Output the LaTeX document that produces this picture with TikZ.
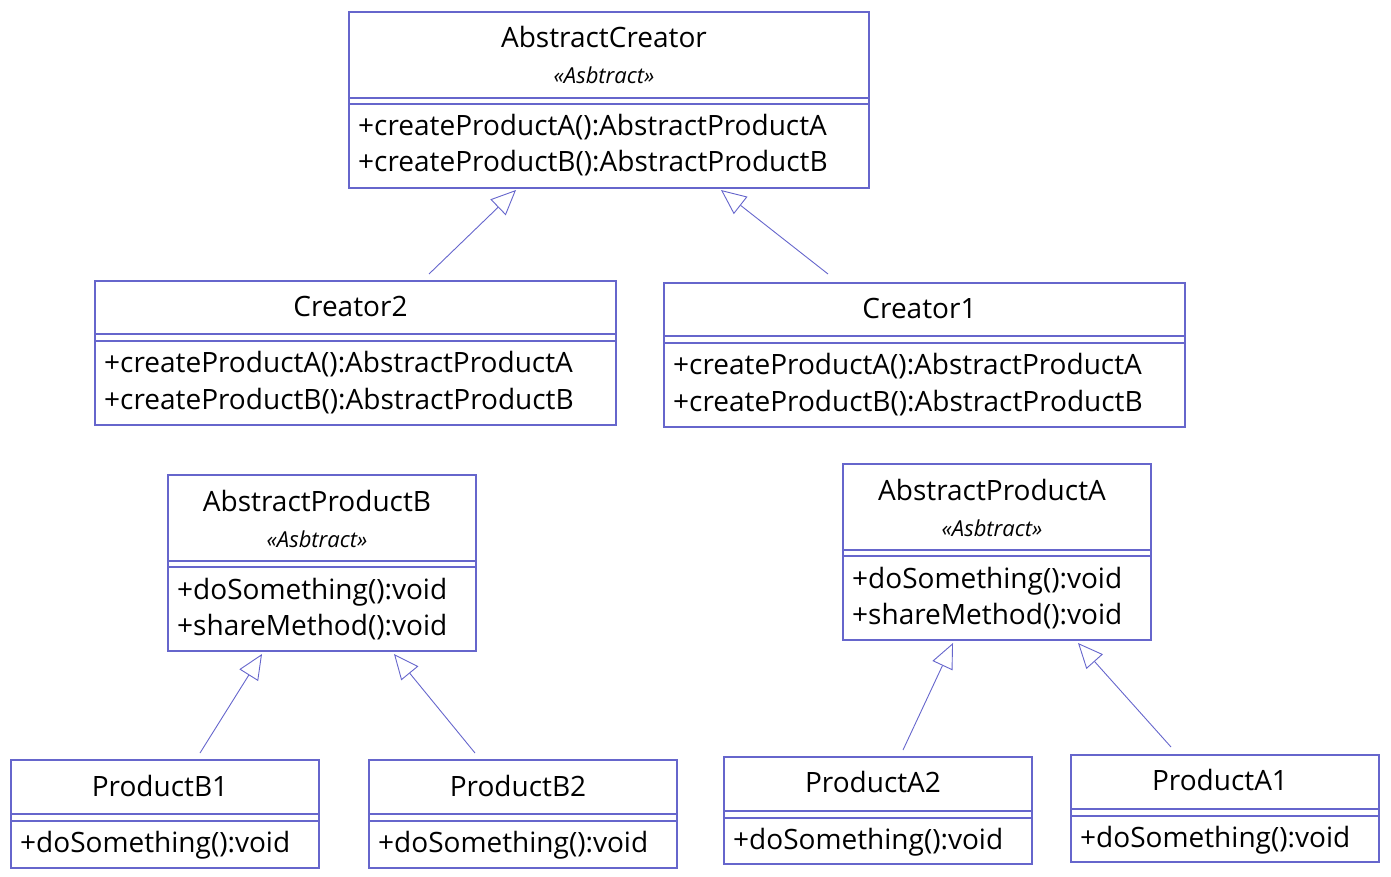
\documentclass[tikz,border=0pt]{standalone}
\usepackage{fontspec}
\setmainfont{Open Sans}
\usetikzlibrary{arrows.meta,calc}

\definecolor{umlblue}{RGB}{102,102,204}

\tikzset{
	cls/.style={draw=umlblue, line width=1.3pt, inner sep=0pt, outer sep=0pt},
	clsname/.style={anchor=base, inner sep=0pt, xshift=-5pt, font=\fontsize{28}{34}\selectfont},
	stereo/.style={anchor=base, inner sep=0pt, xshift=-5pt, font=\fontsize{22}{26}\selectfont\itshape},
	member/.style={anchor=base west, inner sep=0pt, font=\fontsize{28}{34}\selectfont},
	sep/.style={draw=umlblue, line width=1.3pt},
	inherit/.style={draw=umlblue, line width=0.9pt,
		-{Triangle[open, length=25pt, width=22pt, fill=white]}}
}

\begin{document}
\begin{tikzpicture}[x=1pt,y=-1pt]
	\useasboundingbox (0,0) rectangle (1391,877);

	% abstract creator
	\node[cls, minimum width=520pt, minimum height=176pt] (acreator) at (609,100) {};
	\node[clsname] (acreator-t) at ($(acreator.north)+(0,36)$) {AbstractCreator};
	\node[stereo] (acreator-s) at ($(acreator.north)+(0,72)$) {«Asbtract»};
	\foreach \d in {86,92}
		\draw[sep] ($(acreator.north west)+(0,\d)$) -- ($(acreator.north east)+(0,\d)$);
	\node[member] (acreator-m1) at ($(acreator.north west)+(9,124)$) {+createProductA():AbstractProductA};
	\node[member] (acreator-m2) at ($(acreator.north west)+(9,160)$) {+createProductB():AbstractProductB};

	% concrete creators
	\node[cls, minimum width=521pt, minimum height=144pt] (creator2) at (355.5,353) {};
	\node[clsname] (creator2-t) at ($(creator2.north)+(0,35)$) {Creator2};
	\foreach \d in {53,60}
		\draw[sep] ($(creator2.north west)+(0,\d)$) -- ($(creator2.north east)+(0,\d)$);
	\node[member] (creator2-m1) at ($(creator2.north west)+(9,91)$) {+createProductA():AbstractProductA};
	\node[member] (creator2-m2) at ($(creator2.north west)+(9,128)$) {+createProductB():AbstractProductB};

	\node[cls, minimum width=521pt, minimum height=144pt] (creator1) at (924.5,355) {};
	\node[clsname] (creator1-t) at ($(creator1.north)+(0,35)$) {Creator1};
	\foreach \d in {53,60}
		\draw[sep] ($(creator1.north west)+(0,\d)$) -- ($(creator1.north east)+(0,\d)$);
	\node[member] (creator1-m1) at ($(creator1.north west)+(9,91)$) {+createProductA():AbstractProductA};
	\node[member] (creator1-m2) at ($(creator1.north west)+(9,128)$) {+createProductB():AbstractProductB};

	% abstract products
	\node[cls, minimum width=308pt, minimum height=176pt] (aprodB) at (322,563) {};
	\node[clsname] (aprodB-t) at ($(aprodB.north)+(0,36)$) {AbstractProductB};
	\node[stereo] (aprodB-s) at ($(aprodB.north)+(0,72)$) {«Asbtract»};
	\foreach \d in {86,92}
		\draw[sep] ($(aprodB.north west)+(0,\d)$) -- ($(aprodB.north east)+(0,\d)$);
	\node[member] (aprodB-m1) at ($(aprodB.north west)+(9,124)$) {+doSomething():void};
	\node[member] (aprodB-m2) at ($(aprodB.north west)+(9,160)$) {+shareMethod():void};

	\node[cls, minimum width=308pt, minimum height=176pt] (aprodA) at (997,552) {};
	\node[clsname] (aprodA-t) at ($(aprodA.north)+(0,36)$) {AbstractProductA};
	\node[stereo] (aprodA-s) at ($(aprodA.north)+(0,72)$) {«Asbtract»};
	\foreach \d in {86,92}
		\draw[sep] ($(aprodA.north west)+(0,\d)$) -- ($(aprodA.north east)+(0,\d)$);
	\node[member] (aprodA-m1) at ($(aprodA.north west)+(9,124)$) {+doSomething():void};
	\node[member] (aprodA-m2) at ($(aprodA.north west)+(9,160)$) {+shareMethod():void};

	% concrete products
	\node[cls, minimum width=308pt, minimum height=108pt] (prodB1) at (165,814) {};
	\node[clsname] (prodB1-t) at ($(prodB1.north)+(0,36)$) {ProductB1};
	\node[cls, minimum width=308pt, minimum height=108pt] (prodB2) at (523,814) {};
	\node[clsname] (prodB2-t) at ($(prodB2.north)+(0,36)$) {ProductB2};
	\node[cls, minimum width=308pt, minimum height=107pt] (prodA2) at (878,810.5) {};
	\node[clsname] (prodA2-t) at ($(prodA2.north)+(0,35)$) {ProductA2};
	\node[cls, minimum width=308pt, minimum height=107pt] (prodA1) at (1225,808.5) {};
	\node[clsname] (prodA1-t) at ($(prodA1.north)+(0,35)$) {ProductA1};
	\foreach \p in {prodB1,prodB2,prodA2,prodA1} {
		\foreach \d in {54,61}
			\draw[sep] ($(\p.north west)+(0,\d)$) -- ($(\p.north east)+(0,\d)$);
		\node[member] (\p-m1) at ($(\p.north west)+(9,92)$) {+doSomething():void};
	}

	% generalisations
	\draw[inherit] ($(creator2.north west)+(334,-7)$) -- ($(acreator.south west)+(167,2)$);
	\draw[inherit] ($(creator1.north west)+(164,-9)$) -- ($(acreator.south west)+(372,2)$);
	\draw[inherit] ($(prodB1.north west)+(189,-7)$) -- ($(aprodB.south west)+(94,3)$);
	\draw[inherit] ($(prodB2.north west)+(106,-7)$) -- ($(aprodB.south west)+(226,3)$);
	\draw[inherit] ($(prodA2.north west)+(179,-7)$) -- ($(aprodA.south west)+(110,3)$);
	\draw[inherit] ($(prodA1.north west)+(100,-8)$) -- ($(aprodA.south west)+(235,3)$);
\end{tikzpicture}
\end{document}
